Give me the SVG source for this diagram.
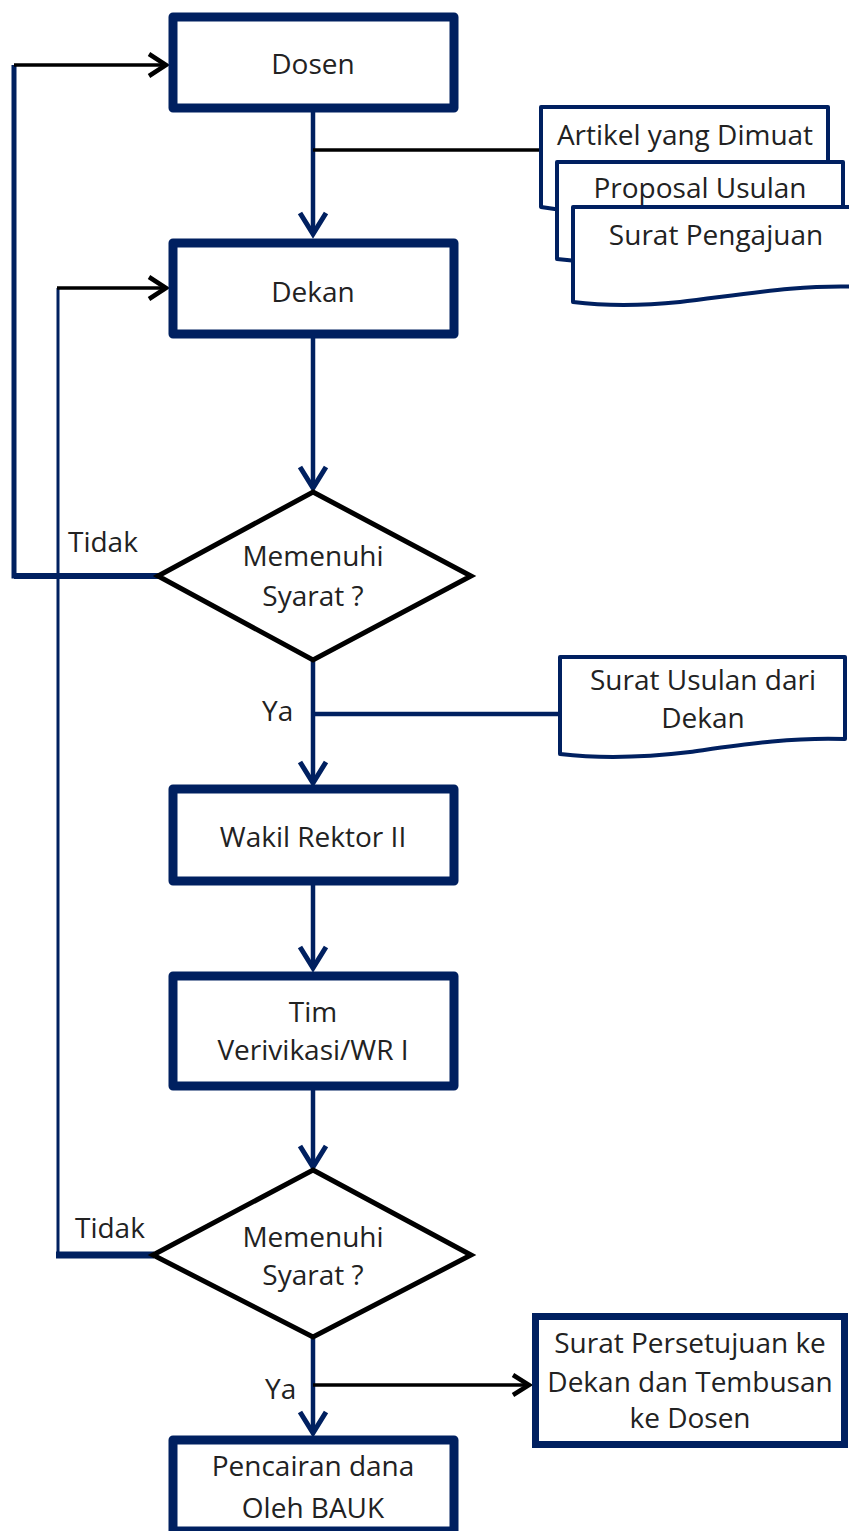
<svg xmlns="http://www.w3.org/2000/svg" width="849" height="1531" viewBox="0 0 849 1531">
<style>
.box{fill:#fff;stroke:#002060;stroke-width:9;stroke-linejoin:round}
.dia{fill:#fff;stroke:#000;stroke-width:5;stroke-linejoin:miter}
.doc{fill:#fff;stroke:#002060;stroke-width:4;stroke-linejoin:round}
.nv{fill:none;stroke:#002060;stroke-width:4.5}
.bk{fill:none;stroke:#000;stroke-width:3.5}
.ahn{fill:none;stroke:#002060;stroke-width:5;stroke-linejoin:miter}
.ahb{fill:none;stroke:#000;stroke-width:4.5;stroke-linejoin:miter}
text{font-family:"Open Sans","Liberation Sans",sans-serif;font-size:28px;fill:#222}
.c{text-anchor:middle}
</style>
<rect width="849" height="1531" fill="#fff"/>
<g id="connectors">
  <line class="nv" x1="313" y1="112" x2="313" y2="234"/>
  <polyline class="ahn" points="300,213 313,234 326,213"/>
  <line class="bk" x1="313" y1="150" x2="543" y2="150"/>
  <line class="nv" x1="313" y1="338" x2="313" y2="488"/>
  <polyline class="ahn" points="300,467 313,488 326,467"/>
  <path d="M160,576 H14 V65" fill="none" stroke="#002060" stroke-width="5"/>
  <path d="M160,576 H14" fill="none" stroke="#002060" stroke-width="6"/>
  <line class="bk" x1="14" y1="65" x2="166" y2="65"/>
  <polyline class="ahb" points="149,54 166,65 149,76"/>
  <line class="nv" x1="313" y1="660" x2="313" y2="783"/>
  <polyline class="ahn" points="300,762 313,783 326,762"/>
  <line class="nv" x1="313" y1="714" x2="560" y2="714" stroke-width="3.5"/>
  <line class="nv" x1="313" y1="885" x2="313" y2="968"/>
  <polyline class="ahn" points="300,947 313,968 326,947"/>
  <line class="nv" x1="313" y1="1090" x2="313" y2="1167"/>
  <polyline class="ahn" points="300,1146 313,1167 326,1146"/>
  <path d="M154,1255 H56" fill="none" stroke="#002060" stroke-width="7"/>
  <path d="M58,1255 V288" fill="none" stroke="#002060" stroke-width="3"/>
  <line class="bk" x1="57" y1="288" x2="166" y2="288"/>
  <polyline class="ahb" points="149,277 166,288 149,299"/>
  <line class="nv" x1="313" y1="1337" x2="313" y2="1433"/>
  <polyline class="ahn" points="300,1412 313,1433 326,1412"/>
  <line class="bk" x1="313" y1="1385" x2="528" y2="1385"/>
  <polyline class="ahb" points="513,1375 529,1385 513,1395"/>
</g>
<g id="dosen">
  <rect class="box" x="173" y="17" width="281" height="91"/>
  <text class="c" x="313" y="74">Dosen</text>
</g>
<g id="doc-artikel">
  <path class="doc" d="M541,107 H828 V195 C760,190 700,205 640,210 C600,213 570,212 541,207 Z"/>
  <text class="c" x="685" y="145">Artikel yang Dimuat</text>
</g>
<g id="doc-proposal">
  <path class="doc" d="M557,162 H843 V248 C780,243 720,256 660,261 C620,264 590,263 557,259 Z"/>
  <text class="c" x="700" y="198">Proposal Usulan</text>
</g>
<g id="doc-surat-pengajuan">
  <path class="doc" d="M573,207 H862 V287 C800,284 740,295 680,302 C640,306 605,306 573,302 Z"/>
  <text class="c" x="716" y="245">Surat Pengajuan</text>
</g>
<g id="dekan">
  <rect class="box" x="173" y="243" width="281" height="91"/>
  <text class="c" x="313" y="302">Dekan</text>
</g>
<g id="syarat1">
  <polygon class="dia" points="313,492 471,576 313,660 158,576"/>
  <text class="c" x="313" y="566">Memenuhi</text>
  <text class="c" x="313" y="606">Syarat ?</text>
</g>
<g id="label-tidak1"><text x="68" y="552">Tidak</text></g>
<g id="label-ya1"><text x="262" y="721">Ya</text></g>
<g id="doc-surat-usulan">
  <path class="doc" d="M560,657 H845 V739 C790,737 740,745 690,752 C640,758 595,758 560,754 Z"/>
  <text class="c" x="703" y="690">Surat Usulan dari</text>
  <text class="c" x="703" y="728">Dekan</text>
</g>
<g id="wakil-rektor">
  <rect class="box" x="173" y="789" width="281" height="92"/>
  <text class="c" x="313" y="847">Wakil Rektor II</text>
</g>
<g id="tim-verifikasi">
  <rect class="box" x="173" y="976" width="281" height="110"/>
  <text class="c" x="313" y="1022">Tim</text>
  <text class="c" x="313" y="1060">Verivikasi/WR I</text>
</g>
<g id="syarat2">
  <polygon class="dia" points="313,1170 471,1255 313,1337 153,1255"/>
  <text class="c" x="313" y="1247">Memenuhi</text>
  <text class="c" x="313" y="1285">Syarat ?</text>
</g>
<g id="label-tidak2"><text x="75" y="1238">Tidak</text></g>
<g id="label-ya2"><text x="265" y="1399">Ya</text></g>
<g id="surat-persetujuan">
  <rect x="535.5" y="1316.5" width="309" height="128" fill="#fff" stroke="#002060" stroke-width="7"/>
  <text class="c" x="690" y="1353">Surat Persetujuan ke</text>
  <text class="c" x="690" y="1392">Dekan dan Tembusan</text>
  <text class="c" x="690" y="1428">ke Dosen</text>
</g>
<g id="pencairan">
  <rect class="box" x="173" y="1440" width="281" height="91"/>
  <text class="c" x="313" y="1476">Pencairan dana</text>
  <text class="c" x="313" y="1518">Oleh BAUK</text>
</g>
</svg>
